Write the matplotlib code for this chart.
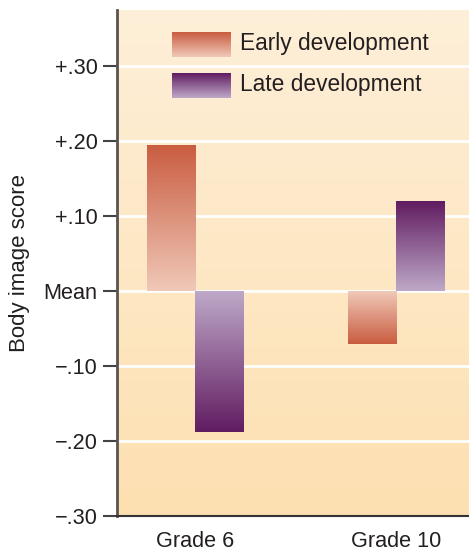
import numpy as np
import matplotlib
matplotlib.use("Agg")
import matplotlib.pyplot as plt
from matplotlib.colors import LinearSegmentedColormap

plt.rcParams['font.family'] = ['Liberation Sans', 'DejaVu Sans']

# Data
grades = ["Grade 6", "Grade 10"]
early = [0.195, -0.07]
late = [-0.188, 0.12]
series_names = ["Early development", "Late development"]
yticks = [0.30, 0.20, 0.10, 0.0, -0.10, -0.20, -0.30]
ytick_labels = ["+.30", "+.20", "+.10", "Mean", "\u2212.10", "\u2212.20", "\u2212.30"]

# Gradient colormaps: light near zero, dark at the bar end
early_cmap = LinearSegmentedColormap.from_list("early", ["#f0c9b8", "#c95c40"])
late_cmap = LinearSegmentedColormap.from_list("late", ["#bea9c8", "#611c61"])
bg_cmap = LinearSegmentedColormap.from_list("bg", ["#fde0b1", "#feefd8"])

TXT = "#231f20"

fig = plt.figure(figsize=(4.69, 5.52), dpi=100)
ax = fig.add_axes([117 / 469, 36 / 552, 352 / 469, 506 / 552])

# Background wash
grad = np.linspace(0, 1, 256).reshape(-1, 1)
ax.imshow(grad, cmap=bg_cmap, aspect="auto", origin="lower",
          extent=[0, 1, 0, 1], transform=ax.transAxes, zorder=0)

# White grid lines
for y in yticks:
    ax.axhline(y, color="white", lw=2, zorder=1)

width = 0.24
x = np.arange(len(grades))


def gradient_bars(xpos, values, cmap):
    bars = ax.bar(xpos, values, width, facecolor="none", edgecolor="none", zorder=2)
    for bar, v in zip(bars, values):
        x0, w = bar.get_x(), bar.get_width()
        ramp = np.linspace(0, 1, 256).reshape(-1, 1)
        if v < 0:
            ramp = ramp[::-1]
        lo, hi = min(0, v), max(0, v)
        im = ax.imshow(ramp, cmap=cmap, aspect="auto", origin="lower",
                       extent=[x0, x0 + w, lo, hi], zorder=2)
        im.set_clip_path(bar)
    return bars


gradient_bars(x - width / 2, early, early_cmap)
gradient_bars(x + width / 2, late, late_cmap)

# Legend drawn as gradient swatches
for i, (name, cmap) in enumerate(zip(series_names, [early_cmap, late_cmap])):
    top = 0.955 - i * 0.08
    ramp = np.linspace(0, 1, 256).reshape(-1, 1)
    ax.imshow(ramp, cmap=cmap, aspect="auto", origin="lower",
              extent=[0.156, 0.322, top - 0.048, top],
              transform=ax.transAxes, zorder=3)
    ax.text(0.35, top - 0.022, name, transform=ax.transAxes,
            va="center", ha="left", fontsize=16.4, color=TXT, zorder=3)

ax.set_xlim(-0.39, 1.365)
ax.set_ylim(-0.30, 0.375)

ax.set_yticks(yticks)
ax.set_yticklabels(ytick_labels, fontsize=15.6, color=TXT)
ax.set_xticks(x)
ax.set_xticklabels(grades, fontsize=15.6, color=TXT)
ax.tick_params(axis="y", length=10, width=1.5, color="#444444", pad=4, direction="out")
ax.tick_params(axis="x", length=0, pad=11)
ax.set_ylabel("Body image score", fontsize=16, color=TXT)
ax.yaxis.set_label_coords(-0.248, 0.5)

for side in ["top", "right"]:
    ax.spines[side].set_visible(False)
ax.spines["left"].set_color("#5a5350")
ax.spines["left"].set_linewidth(2)
ax.spines["bottom"].set_color("#333333")
ax.spines["bottom"].set_linewidth(1.5)

fig.savefig("out.png", dpi=100, facecolor="white")
